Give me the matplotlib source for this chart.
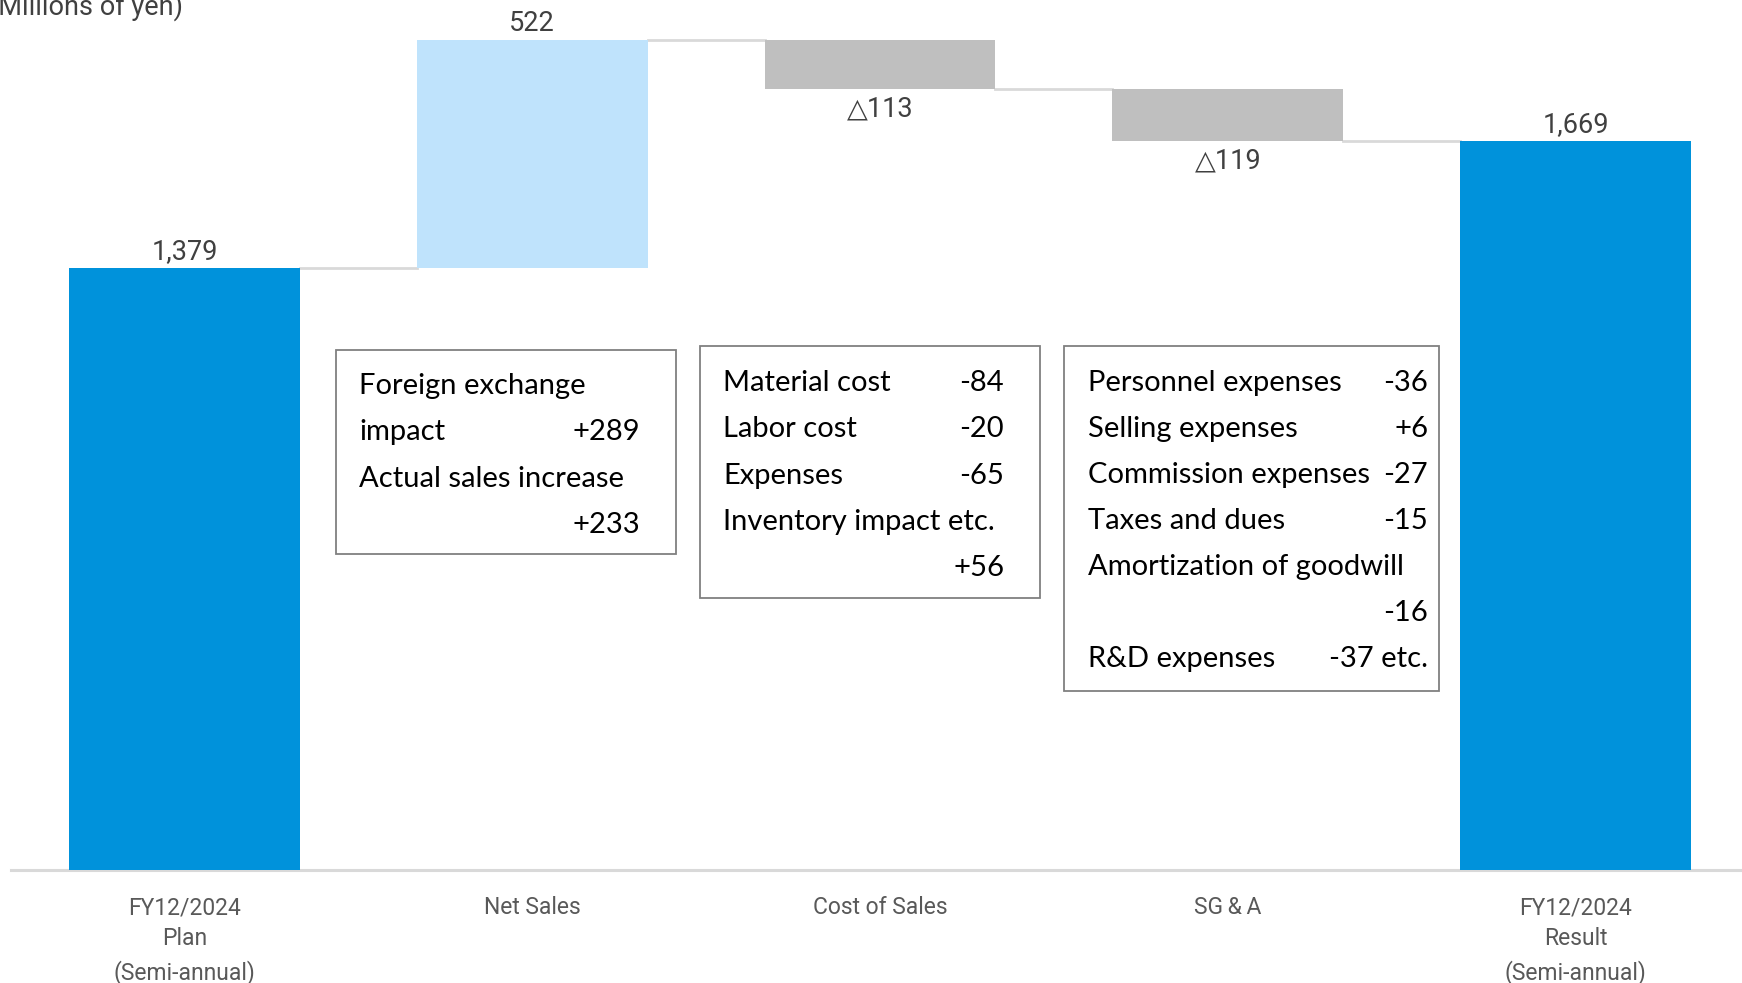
import matplotlib
matplotlib.use("Agg")
import matplotlib.pyplot as plt
from matplotlib.patches import Rectangle

# Data (millions of yen)
categories = ["FY12/2024\nPlan\n(Semi-annual)", "Net Sales", "Cost of Sales", "SG\u2009&\u2009A",
              "FY12/2024\nResult\n(Semi-annual)"]
plan_value = 1379
changes = [522, -113, -119]
result_value = 1669
value_labels = ["1,379", "522", "\u25b3113", "\u25b3119", "1,669"]

box_net_sales = [("Foreign exchange", ""), ("impact", "+289"),
                 ("Actual sales increase", ""), ("", "+233")]
box_cost = [("Material cost", "-84"), ("Labor cost", "-20"), ("Expenses", "-65"),
            ("Inventory impact etc.", ""), ("", "+56")]
box_sga = [("Personnel expenses", "-36"), ("Selling expenses", "+6"),
           ("Commission expenses", "-27"), ("Taxes and dues", "-15"),
           ("Amortization of goodwill", ""), ("", "-16"), ("R&D expenses", "-37 etc.")]

W, H = 1742, 983
dark_blue = "#0092DB"
light_blue = "#BFE3FC"
gray = "#BFBFBF"
line_gray = "#D9D9D9"
txt = "#404040"

fig = plt.figure(figsize=(W / 100, H / 100), dpi=100)
ax = fig.add_axes([0, 0, 1, 1])
ax.set_xlim(-0.5306, 4.4788)
ax.set_ylim(-258.8, 1992.7)
ax.axis("off")

# waterfall geometry
bottoms, heights, colors = [0], [plan_value], [dark_blue]
level = plan_value
for c in changes:
    if c >= 0:
        bottoms.append(level)
        heights.append(c)
        colors.append(light_blue)
    else:
        bottoms.append(level + c)
        heights.append(-c)
        colors.append(gray)
    level += c
bottoms.append(0)
heights.append(result_value)
colors.append(dark_blue)

xs = list(range(len(categories)))
bw = 0.664
ax.bar(xs, heights, bottom=bottoms, width=bw, color=colors, zorder=2)

# connectors
levels = [plan_value]
for c in changes:
    levels.append(levels[-1] + c)
for i, lv in enumerate(levels):
    ax.plot([i + bw / 2, i + 1 - bw / 2], [lv, lv], color=line_gray, lw=2, zorder=1)

# baseline
ax.plot([-0.5, 4.4788], [0, 0], color=line_gray, lw=2.2, zorder=1)

lab_font = ["Roboto", "DejaVu Sans"]
for i, lab in enumerate(value_labels):
    if i in (0, len(xs) - 1) or colors[i] == light_blue:
        y, off, va = bottoms[i] + heights[i], 3, "bottom"
    else:
        y, off, va = bottoms[i], -6, "top"
    ax.annotate(lab, (i, y), xytext=(0, off), textcoords="offset pixels",
                ha="center", va=va, fontsize=19.5, color=txt, family=lab_font)

for i, cat in enumerate(categories):
    ax.annotate(cat, (i, 0), xytext=(0, -26), textcoords="offset pixels",
                ha="center", va="top", fontsize=16.5, color="#595959",
                family=lab_font, linespacing=1.47)

# unit label (cut off at the top-left corner, as in the original slide)
fig.text(183 / W, 1 - 15 / H, "(Millions of yen)", ha="right", va="baseline",
         fontsize=19.5, color=txt, family=lab_font)


def draw_box(rows, x0, x1, y0, y1, tx0, tx1, ty0, step):
    fig.patches.append(Rectangle((x0 / W, 1 - y1 / H), (x1 - x0) / W, (y1 - y0) / H,
                                 transform=fig.transFigure, fill=False,
                                 edgecolor="#808080", lw=1.3))
    for k, (left, right) in enumerate(rows):
        yy = 1 - (ty0 + k * step) / H
        if left:
            fig.text(tx0 / W, yy, left, ha="left", va="center", fontsize=21,
                     color="black", family="Lato")
        if right:
            fig.text(tx1 / W, yy, right, ha="right", va="center", fontsize=21,
                     color="black", family="Lato")


draw_box(box_net_sales, 336, 676, 350, 554, 359, 640, 386, 46.3)
draw_box(box_cost, 700, 1040, 346, 598, 723, 1004, 383, 46.3)
draw_box(box_sga, 1064, 1439, 346, 691, 1088, 1428, 383, 46.0)

fig.savefig("out.png", dpi=100)
